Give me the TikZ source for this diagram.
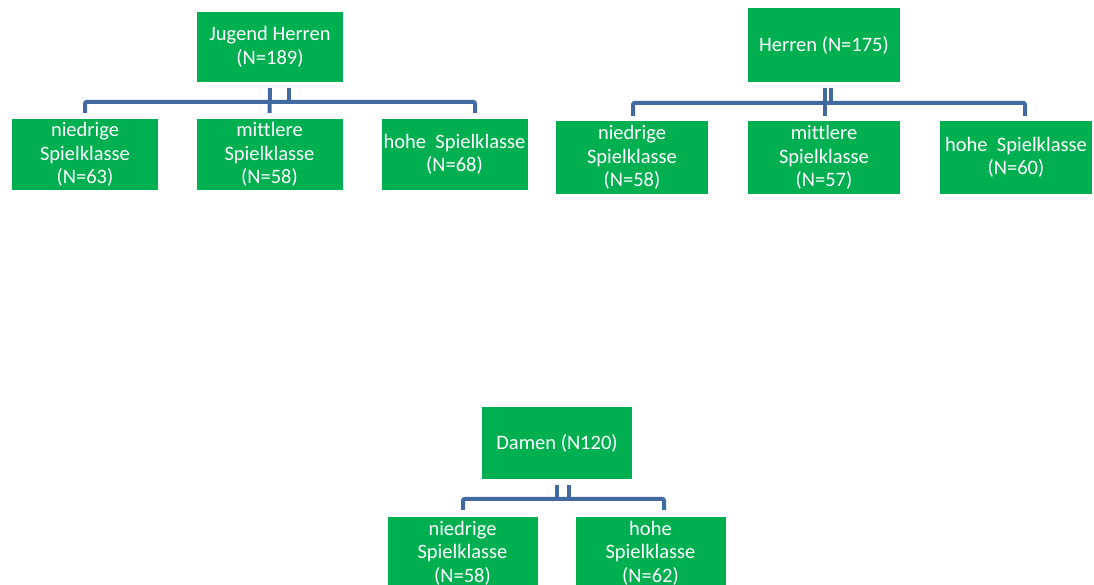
\documentclass[tikz,border=0pt]{standalone}
\usepackage{fontspec}
\setmainfont{Carlito}[Ligatures=NoCommon]
\definecolor{boxgreen}{RGB}{0,176,80}
\definecolor{linkblue}{RGB}{65,106,160}

\begin{document}
\begin{tikzpicture}[x=1pt, y=-1pt,
main/.style = {fill=boxgreen, text=white, align=center, inner sep=0pt, minimum width=146pt, minimum height=71pt, font=\fontsize{20.5}{23.5}\selectfont},
link/.style = {draw=linkblue, line width=4pt, rounded corners=2pt}]

\useasboundingbox (0, 0) rectangle (1094, 585);
\clip (0, 0) rectangle (1094, 585);

% Jugend Herren
\node[main, minimum height=70pt] (J0) at (270, 47) {Jugend Herren\\(N=189)};
\node[main] (J1) at (85, 154.5) {niedrige\\Spielklasse\\(N=63)};
\node[main] (J2) at (269.5, 154.5) {mittlere\\Spielklasse\\(N=58)};
\node[main] (J3) at (454.5, 154.5) {hohe\ \ Spielklasse\\(N=68)};

\draw[link] ([yshift=-6pt]J0.south) -- ([yshift=6pt]J2.north);
\draw[link] ([xshift=19pt, yshift=-6pt]J0.south) -- ++(0, 14);
\draw[link] ([yshift=6pt]J1.north) -- ++(0, -11) -| ([xshift=20.5pt, yshift=6pt]J3.north);

% Herren
\node[main, minimum width=152pt, minimum height=74pt] (H0) at (824, 45) {Herren (N=175)};
\node[main, minimum width=152pt, minimum height=73pt] (H1) at (632, 157.5) {niedrige\\Spielklasse\\(N=58)};
\node[main, minimum width=152pt, minimum height=73pt] (H2) at (824, 157.5) {mittlere\\Spielklasse\\(N=57)};
\node[main, minimum width=152pt, minimum height=73pt] (H3) at (1016, 157.5) {hohe\ \ Spielklasse\\(N=60)};

\draw[link] ([xshift=1pt, yshift=-6pt]H0.south) -- ([xshift=1pt, yshift=5pt]H2.north);
\draw[link] ([xshift=7pt, yshift=-6pt]H0.south) -- ++(0, 15);
\draw[link] ([xshift=1pt, yshift=5pt]H1.north) -- ++(0, -13) -| ([xshift=9pt, yshift=5pt]H3.north);

% Damen
\node[main, minimum width=150pt, minimum height=72pt] (D0) at (557, 443) {Damen (N120)};
\node[main, minimum width=150pt, minimum height=72pt] (D1) at (462.5, 553) {niedrige\\Spielklasse\\(N=58)};
\node[main, minimum width=150pt, minimum height=72pt] (D2) at (650.5, 553) {hohe\\Spielklasse\\(N=62)};

\draw[link] ([yshift=-6pt]D0.south) -- ++(0, 14);
\draw[link] ([xshift=12pt, yshift=-6pt]D0.south) -- ++(0, 14);
\draw[link] ([xshift=0.5pt, yshift=7pt]D1.north) -- ++(0, -11) -| ([xshift=13.5pt, yshift=7pt]D2.north);

\end{tikzpicture}
\end{document}
